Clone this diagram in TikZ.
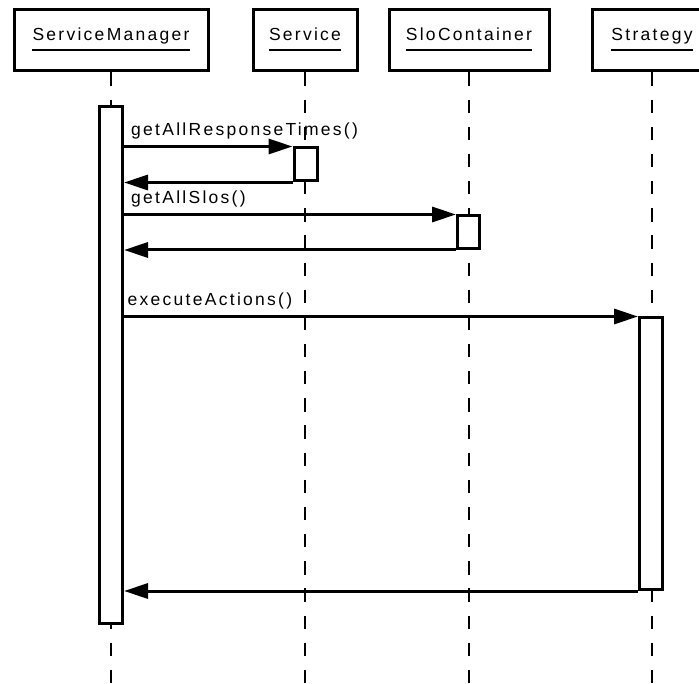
\documentclass[tikz,border=0pt]{standalone}
\usepackage{fontspec}
\setmainfont{Liberation Sans}[LetterSpace=13]
\usetikzlibrary{arrows.meta}
\begin{document}
\begin{tikzpicture}[x=1pt,y=-1pt,
  lbl/.style={font=\fontsize{17.5}{20}\selectfont, inner sep=0pt},
  headbox/.style={draw, line width=3pt, minimum height=61pt, inner sep=0pt},
  lifeline/.style={line width=1.6pt, dash pattern=on 13.3pt off 13.85pt},
  actbox/.style={draw, line width=3pt, fill=white, inner sep=0pt, anchor=north},
  msg/.style={line width=3pt, -{Triangle[length=24pt,width=15pt]}},
  uline/.style={line width=1.5pt}]

  % canvas
  \fill[white] (0,0) rectangle (699,684);
  \useasboundingbox (0,0) rectangle (699,684);
  \coordinate (bottom) at (0,690);

  % object heads
  \node[headbox, minimum width=194pt] (sm)  at (111,40.5) {};
  \node[headbox, minimum width=104pt] (svc) at (305,40.5) {};
  \node[headbox, minimum width=160pt] (slo) at (469,40.5) {};
  \node[headbox, minimum width=120pt] (str) at (652,40.5) {};

  \node[lbl, anchor=base] (smname)  at (111,41) {ServiceManager};
  \node[lbl, anchor=base] (svcname) at (305,41) {Service};
  \node[lbl, anchor=base] (sloname) at (469,41) {SloContainer};
  \node[lbl, anchor=base] (strname) at (652,41) {Strategy};
  \foreach \n in {smname,svcname,sloname,strname}
    \draw[uline] (\n.west |- 0,50) -- (\n.east |- 0,50);

  % lifelines
  \foreach \h in {sm,svc,slo,str}
    \draw[lifeline] (\h.south) -- (\h.south |- bottom);

  % activation bars
  \node[actbox, minimum width=23pt, minimum height=516.5pt] (smact)  at (111,105) {};
  \node[actbox, minimum width=23pt, minimum height=33pt]    (svcact) at (305.5,146.5) {};
  \node[actbox, minimum width=22pt, minimum height=32.5pt]  (sloact) at (468.5,214.5) {};
  \node[actbox, minimum width=23pt, minimum height=271.5pt] (stract) at (651,316.5) {};

  % messages
  \draw[msg] (smact.east |- svcact.north) -- (svcact.north west);
  \draw[msg] (svcact.south west) -- (smact.east |- svcact.south);
  \draw[msg] (smact.east |- sloact.north) -- (sloact.north west);
  \draw[msg] (sloact.south west) -- (smact.east |- sloact.south);
  \draw[msg] (smact.east |- stract.north) -- (stract.north west);
  \draw[msg] (stract.south west) -- (smact.east |- stract.south);

  % message labels
  \node[lbl, anchor=base west] (m1) at (131,135.5) {getAllResponseTimes()};
  \node[lbl, anchor=base west] (m2) at (131,203.5) {getAllSlos()};
  \node[lbl, anchor=base west] (m3) at (127.5,305.5) {executeActions()};
\end{tikzpicture}
\end{document}
